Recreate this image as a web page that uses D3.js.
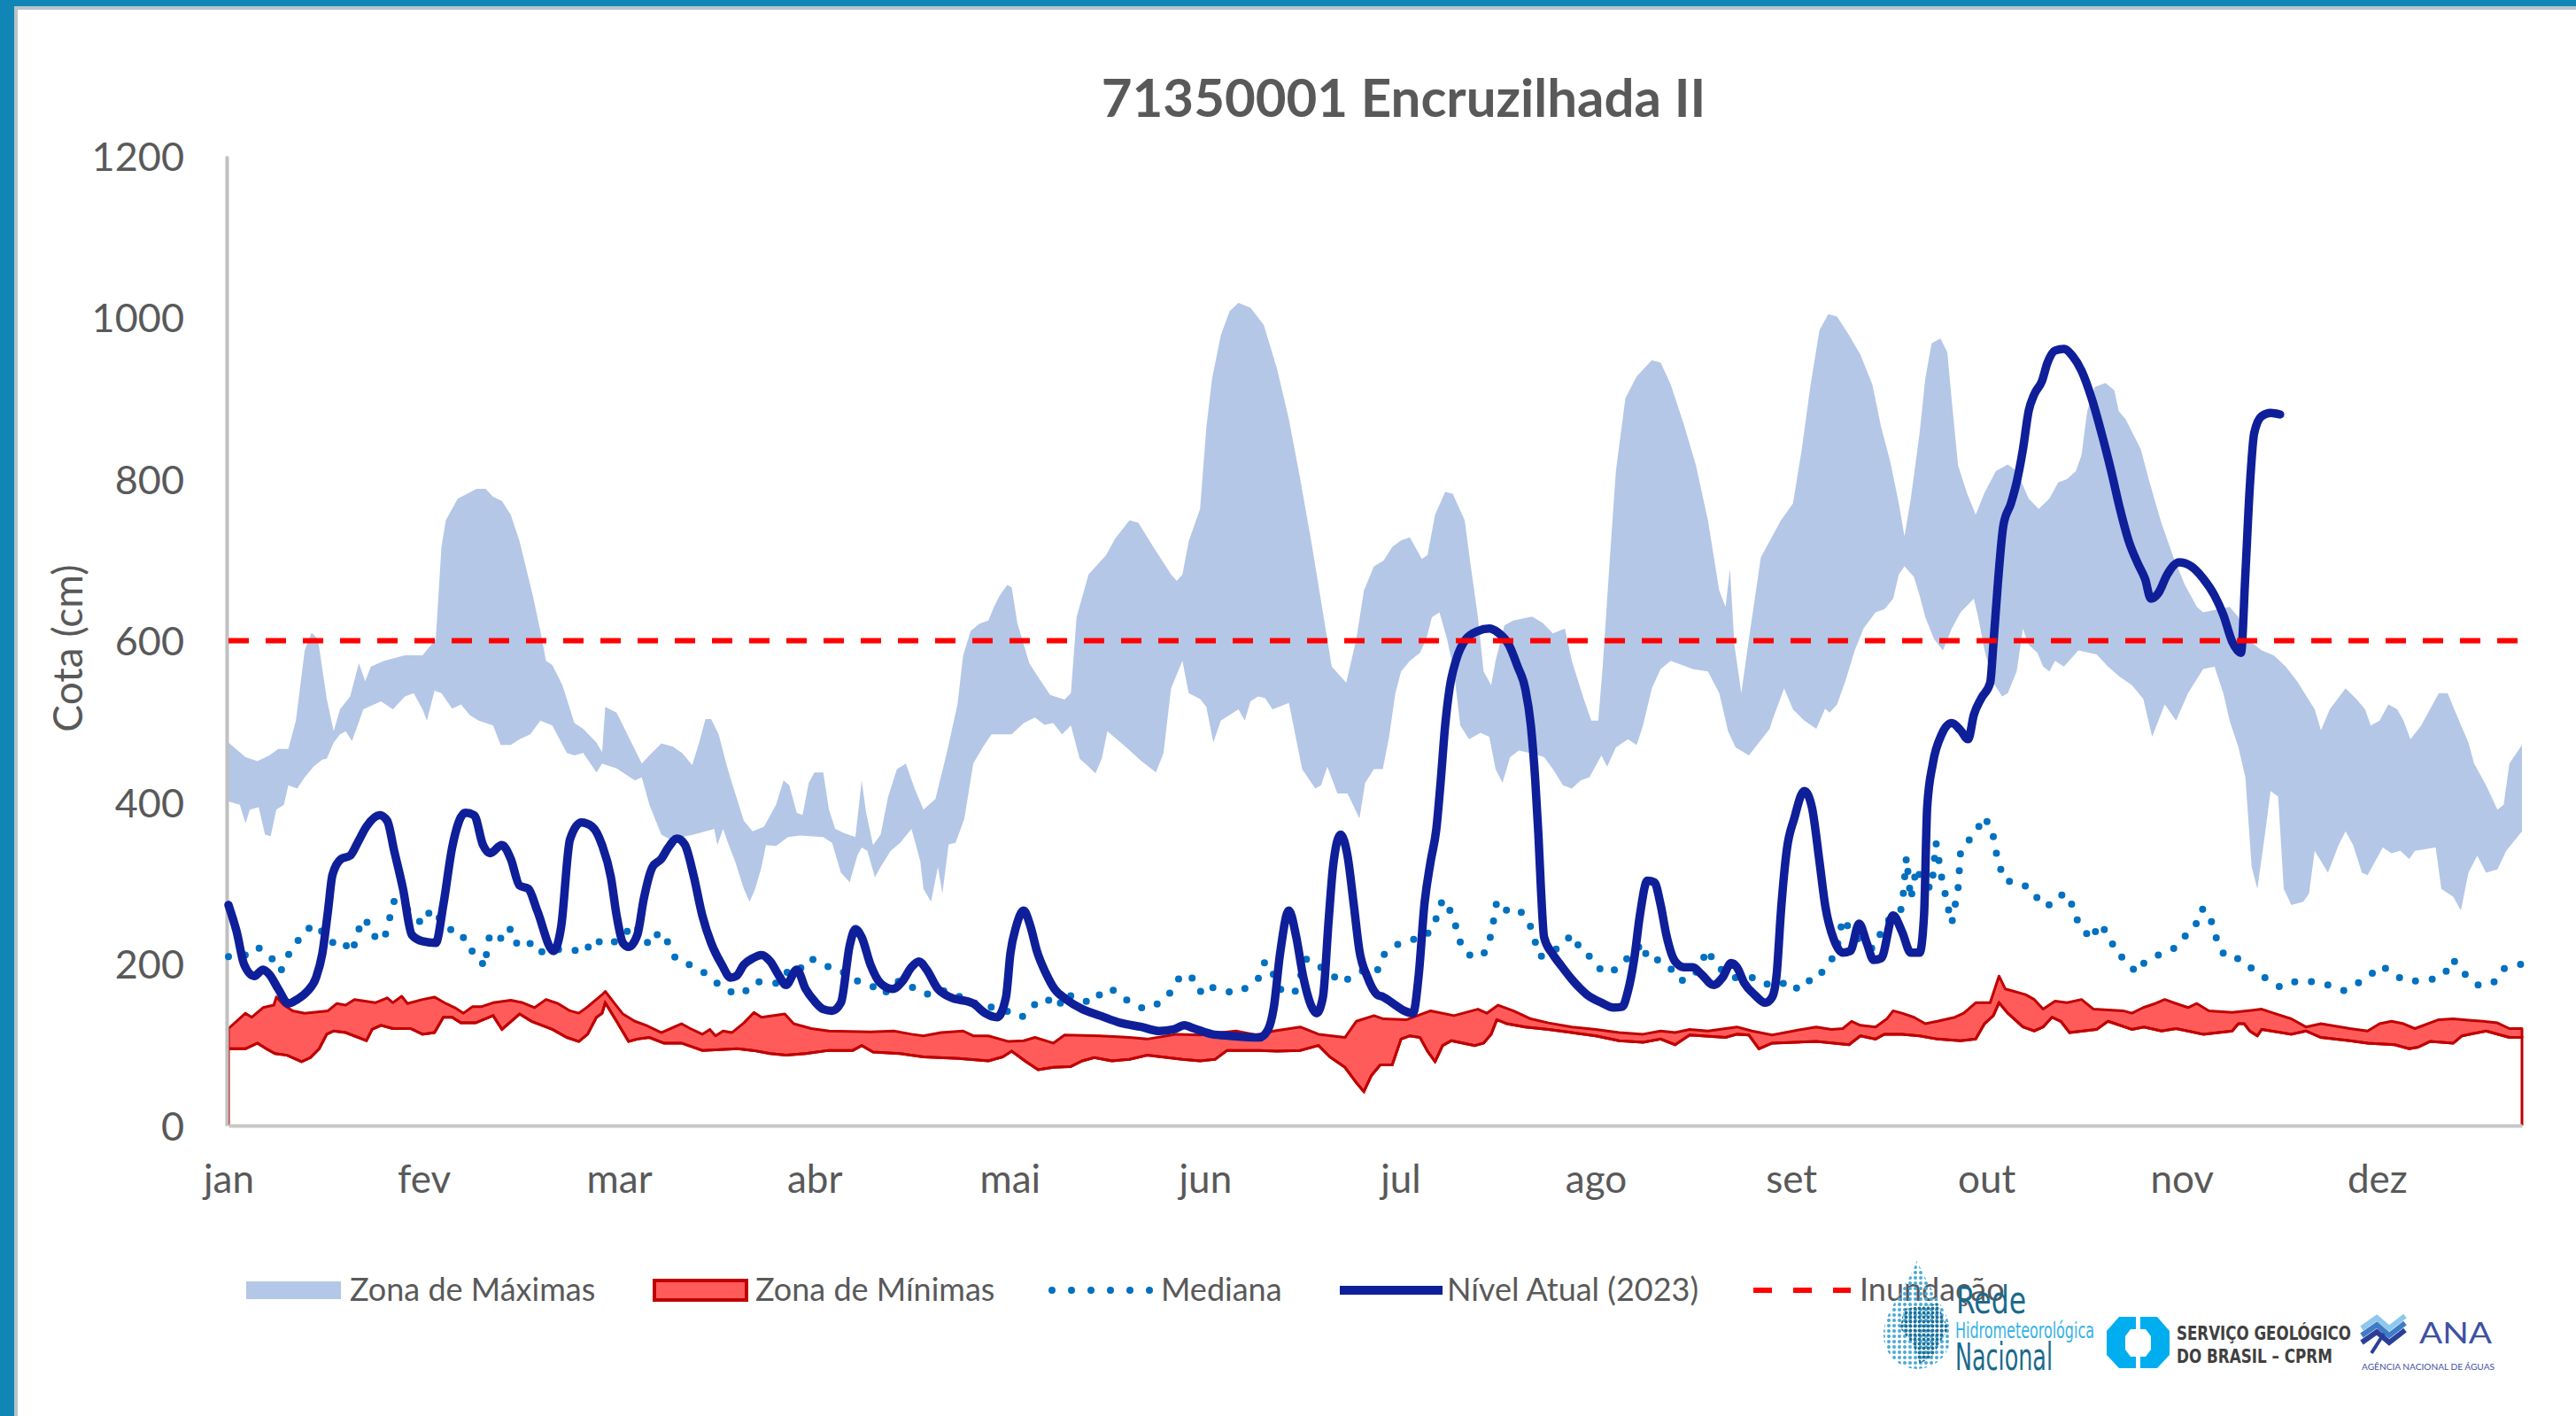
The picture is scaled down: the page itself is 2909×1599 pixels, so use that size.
<!DOCTYPE html>
<html>
<head>
<meta charset="utf-8">
<script src="https://cdn.jsdelivr.net/npm/d3@7"></script>
<style>
  body { margin: 0; background: #0f86b6; }
  svg { display: block; }
  text { font-family: Lato, "Open Sans", sans-serif; }
</style>
</head>
<body>
<svg id="chart" width="2909" height="1599"></svg>
<script>
// ---- dados (dia do ano, cota em cm) ----
const meses = ["jan", "fev", "mar", "abr", "mai", "jun", "jul", "ago", "set", "out", "nov", "dez"];
const cotas = [0, 200, 400, 600, 800, 1000, 1200];
const cotaInundacao = 600;

const zonaMaxSup = [[0,474],[2.7,456],[4.6,451],[6.5,458],[7.9,466],[9.5,466],[10.7,501],[12.1,588],[13.2,610],[14.2,602],[15.6,528],[16.7,488],[17.7,515],[19.3,531],[20.7,572],[21.7,550],[22.6,568],[24.7,575],[28,582],[30.8,582],[32.9,602],[33.8,716],[34.5,749],[36.4,776],[39.4,788],[40.8,788],[42,778],[43.4,773],[44.8,756],[46.2,723],[48.3,656],[49.5,612],[50.4,575],[51.4,570],[53,545],[54.9,498],[56.3,491],[58.4,474],[59.3,462],
  [59.8,518],[61.6,511],[63.5,481],[65.6,448],[66.8,458],[68.7,473],[70.5,469],[72,461],[73.6,446],[74.7,474],[75.7,503],[76.6,503],[77.8,484],[79,448],[79.9,424],[81.8,377],[83.2,364],[85,370],[86.9,397],[88.1,427],[89,421],[90.2,387],[91.1,384],[92.1,424],[93,437],[94.4,437],[95.3,391],[96.3,367],[97.7,362],[99.5,357],[100.5,427],[101.2,387],[102.3,347],[103.5,360],[104.7,407],[106.1,441],[107.5,448],[108.9,417],[110.3,391],[112.2,404],[114,461],[115.7,521],[116.6,582],[117.8,612],[119.2,621],[120.6,625],
  [121.5,642],[122.4,656],[123.6,669],[124.3,666],[125.2,622],[127.1,572],[128.5,555],[130.4,533],[132.7,527],[133.7,535],[134.6,629],[136.5,682],[139.3,706],[140.7,726],[143,749],[144.4,746],[146.8,716],[149.6,682],[150.5,674],[151.4,682],[152.4,723],[154.2,763],[155.2,864],[156.1,924],[157.5,978],[158.9,1008],[160.3,1018],[162.2,1012],[164.3,991],[166.4,937],[168.3,874],[170.1,800],[172,716],[173.4,649],[175.1,568],[177.4,548],[179,602],[180.2,662],[181.8,692],
  [183.3,699],[184.7,716],[186.1,724],[187.5,728],[189.4,701],[190.3,706],[191.5,756],[193.1,784],[194.3,782],[196.2,749],[197.1,696],[198.3,629],[199.2,562],[200.4,545],[201.1,575],[202.5,619],[203.9,625],[206.9,630],[208.6,622],[210.2,609],[212.1,615],[213.2,575],[215.1,528],[216.3,501],[217.4,501],[218.1,568],[219.3,709],[220.2,810],[221.7,900],[223.5,927],[225.9,947],[227.3,944],[228.9,917],[231,867],[232.9,817],[234.8,749],[236.6,662],[237.6,642],[238.3,689],[239,595],[240.1,535],[241.3,602],[243.2,703],
  [245,729],[246.4,749],[248.3,770],[249.7,837],[251.1,917],[252.5,984],[253.9,1004],[255.3,1001],[257.2,978],[259,954],[260.9,917],[262.3,864],[263.7,823],[265.1,770],[266,729],[267,776],[268.4,857],[269.3,924],[270.3,968],[271.7,974],[272.8,957],[273.5,897],[274.5,817],[275.9,783],[277.3,756],[278.7,783],[280.5,810],[282.4,818],[283.8,810],[285.7,776],[287.3,763],[289,776],[290.4,796],[291.8,800],[293.2,810],[294.1,830],[295,884],[296.2,914],[297.9,919],[299.3,910],[300,884],[301.1,874],[303.5,837],[304.9,796],
  [306.8,745],[308.7,703],[310.5,669],[312.4,642],[313.4,635],[317.6,642],[319,629],[320.4,602],[322.7,588],[324.6,582],[326.5,568],[328.3,550],[331.1,515],[332.1,489],[333.5,515],[336,541],[337.7,528],[339.1,515],[340,495],[341.4,501],[342.8,521],[344.2,515],[345.2,501],[346.3,478],[348,495],[350.8,535],[352.2,535],[354,501],[355.5,474],[356.4,448],[358.3,421],[360.1,391],[361.1,397],[362,448],[364,471]];

const zonaMaxInf = [[0,401],[1.8,397],[2.7,374],[3.4,391],[4.8,394],[5.8,360],[6.7,358],[7.6,391],[8.8,397],[9.5,421],[10.9,417],[12.1,431],[13.5,444],[14.9,453],[15.6,454],[16.7,474],[17.7,484],[18.6,488],[19.6,476],[20.5,495],[21.4,515],[24.2,525],[26.1,515],[28,531],[29.4,535],[30.8,515],[31.5,501],[32.7,538],[33.8,535],[35.5,516],[36.9,521],[38.3,508],[39.7,501],[42,495],[43.2,471],[44.8,471],[46.2,478],[47.9,484],[49.5,501],[51.4,495],[53.7,461],[54.9,458],[56.3,461],[58.4,437],[59.3,448],
  [61.6,442],[64.5,427],[65.6,431],[66.8,397],[68.7,360],[70.1,354],[73.8,360],[77.1,367],[77.6,347],[78.5,367],[79.4,347],[80.4,327],[81.8,293],[82.7,277],[83.6,293],[84.6,320],[85.3,347],[86.9,346],[88.8,357],[90.7,359],[94.4,357],[95.8,350],[97.2,313],[98.6,301],[99.8,334],[100.5,344],[101.4,340],[102.6,307],[103.5,320],[105.1,340],[106.6,350],[108.4,367],[109.8,327],[110.3,293],[111.5,277],[112.6,320],[113.3,287],[114.3,348],[115.4,350],[116.8,380],[118.2,448],[119.7,468],[121.1,484],
  [124.3,484],[126.2,498],[128,505],[129.5,496],[130.9,498],[132.3,484],[133.7,495],[135.1,454],[136.5,444],[137.6,436],[138.6,454],[139.5,488],[142.5,468],[144.9,451],[147.2,437],[148.4,461],[149.6,541],[150.7,562],[151.4,575],[152.4,535],[154.2,528],[155.2,518],[156.3,474],[157.5,501],[160.3,515],[161.3,501],[162.2,525],[163.4,531],[164.5,529],[165.7,515],[168.3,523],[169.2,488],[170.4,441],[172.5,417],[173.4,421],[174.4,444],[176,411],[177.6,411],[179.5,380],[180.4,424],[181.8,441],[183.2,441],
  [184.2,481],[185.2,535],[186.1,562],[187.5,575],[189.1,585],[190.1,602],[191,629],[192.2,635],[193.4,602],[194.5,562],[195.5,495],[196.9,478],[198.7,486],[200.1,481],[201.1,441],[202.2,424],[203.4,456],[204.8,464],[207.2,460],[208.8,456],[210.2,441],[211.8,421],[213.2,417],[214.6,427],[216,431],[217.9,458],[218.8,444],[220.2,468],[222.1,478],[223.5,471],[224.5,495],[225.9,541],[227.3,565],[228.9,575],[232.4,565],[234.8,562],[236.6,535],[238,488],[239.2,468],[241.3,458],[242.9,474],[244.6,491],
  [245,501],[246.9,541],[248.3,515],[250.1,501],[252,491],[253.4,516],[254.1,511],[255.3,521],[256.7,552],[258.1,588],[259.5,615],[261.4,635],[262.8,639],[264.2,652],[265.1,682],[266,692],[267.5,679],[268.4,656],[269.3,629],[270.7,602],[272.1,588],[273.5,615],[274.9,635],[277,652],[277.7,629],[278.7,588],[280.1,548],[281.5,531],[282.4,535],[283.8,562],[284.8,615],[285.7,595],[287.1,585],[288,568],[289,562],[289.9,575],[291.3,568],[293.6,588],[296.5,583],[298.3,568],[300.2,555],[302.1,545],[303.9,528],[305.3,481],[306.3,501],
  [307.3,521],[309.1,501],[311,535],[313.4,565],[315.2,568],[316.6,535],[317.6,501],[319,468],[320.1,431],[321.1,320],[322,293],[323.2,360],[324.1,414],[325.3,407],[326.2,293],[327.4,273],[329.3,277],[330.2,287],[331.1,340],[333.2,313],[334.9,347],[336,364],[337.2,347],[338.6,313],[339.5,310],[341.9,344],[343.3,337],[344.7,340],[346.1,330],[347,340],[350.3,344],[351.2,293],[353.1,283],[354.3,266],[355.5,313],[356.9,334],[358.3,313],[360.1,317],[361.5,340],[364,364]];

const zonaMinSup = [[0,120],[2.7,139],[3.7,134],[5.5,146],[7.2,149],[7.6,159],[8.8,149],[10.2,142],[12.1,139],[15.8,142],[17.2,151],[18.6,149],[20,156],[23.3,152],[25.2,158],[26.1,152],[27.5,160],[28.4,151],[30.8,156],[32.7,159],[34.5,151],[35.9,146],[37.3,139],[38.7,147],[40.1,147],[42,152],[44.8,155],[46.7,152],[48.6,146],[50.4,156],[52.3,151],[54.2,142],[55.6,139],[57,147],[59.3,162],[59.8,166],[61.2,152],[62.6,138],[64.5,129],[66.3,124],[68.7,115],[71.9,126],[73.3,120],[75.2,113],[76.4,119],[77.3,111],[78.5,117],[79.9,115],[81.8,127],[83.4,140],[84.6,134],[88.3,138],[89.7,126],[92.5,120],[95.3,117],[101.9,116],[105.6,117],[108.4,113],[110.3,111],[113.1,115],[116.6,117],[118.2,111],[120.6,111],[123.8,104],[126.2,105],[128,109],[130.9,102],[132.7,112],[138.3,111],[143,109],[145.8,107],[150.5,113],[154.2,112],[159.9,117],[163.1,112],[165.9,117],[170.1,122],[173,113],[177.2,109],[179,129],[181.8,136],[183.3,132],[187,131],[190.8,142],[194.5,136],[198.3,144],[199.7,139],[201.5,149],[203.9,142],[206.7,132],[209.5,127],[213.2,122],[217,119],[220.7,115],[224.5,113],[227.3,117],[229.6,115],[231.9,119],[234.8,117],[239.4,122],[241.8,117],[245,112],[249.7,119],[252,122],[254.4,119],[256.2,120],[257.6,129],[259,124],[261.4,122],[263.2,132],[264.2,142],[265.6,139],[267.5,134],[269.3,126],[271.2,129],[274,134],[275.4,139],[277.3,152],[279.6,152],[281,185],[282,169],[283.4,166],[285.2,162],[286.6,156],[288,144],[289.9,154],[291.8,152],[294.1,156],[296,144],[300.7,142],[302.1,139],[303.9,146],[305.8,151],[307.3,156],[309.1,151],[311,146],[312.4,151],[314.3,142],[318,140],[322.7,144],[324.6,139],[327.4,132],[329.7,122],[332.1,126],[336.7,120],[339.5,117],[341.4,126],[343.3,129],[345.2,126],[347,120],[350.8,131],[353.1,132],[357.8,129],[360.1,127],[362,120],[364,120]];

const zonaMinInf = [[0,95],[2.7,95],[4.6,102],[6,95],[7.4,89],[9.3,87],[11.6,79],[13,84],[14.4,95],[15.6,113],[16.7,117],[18.6,115],[21.9,105],[22.8,119],[24.2,124],[26.1,120],[28.9,120],[30.8,113],[32.7,115],[34.1,134],[35.5,134],[36.9,127],[39.2,127],[42,136],[43.4,119],[46.2,138],[48.1,129],[51.4,119],[53.7,109],[55.6,104],[57,113],[58.4,134],[59.3,139],[59.8,152],[61.6,129],[63.5,104],[64.9,107],[66.8,109],[69.1,102],[71.9,102],[75.2,93],[80.8,95],[83.2,93],[86,89],[88.5,87],[91.6,89],[95.3,93],[99.1,93],[100.5,99],[102.3,91],[106.6,89],[110.3,85],[115.9,83],[120.6,80],[122.9,85],[124.3,92],[126.6,79],[128.5,69],[130.9,72],[133.7,73],[135.5,80],[137.4,84],[140.2,80],[143,82],[145.8,87],[151.4,82],[154.2,80],[156.6,82],[158.5,93],[163.6,93],[166.4,92],[170.1,93],[173,99],[174.8,85],[177.2,72],[179,53],[180.2,42],[181.4,62],[182.8,75],[184.7,75],[186.1,107],[187.5,111],[189.1,109],[190.3,92],[191.5,79],[192.7,99],[194.1,105],[197.8,99],[199.2,102],[200.4,113],[201.3,131],[202.9,126],[205.8,122],[209.5,119],[213.2,115],[217,111],[220.7,105],[224.5,103],[227.3,107],[229.6,100],[231.9,112],[237.6,109],[239.4,113],[241.3,112],[242.9,95],[245,102],[252,104],[257.2,100],[259,111],[261.4,107],[262.8,113],[265.6,113],[268.4,111],[271.2,107],[274.9,105],[277.3,107],[278.7,126],[280.1,136],[281,152],[282.4,139],[284.8,122],[286.6,117],[288,122],[289.4,134],[290.8,129],[292.2,115],[296.5,119],[298.3,129],[302.1,119],[304,122],[306.8,117],[309.1,120],[313.4,113],[318,117],[319,126],[319.9,126],[320.8,117],[322,111],[322.7,119],[327.4,113],[329.7,117],[332.1,109],[336.7,105],[339.5,102],[343.8,100],[346.1,95],[347.5,97],[349.4,104],[353.1,102],[354.5,111],[358.3,117],[362,109],[364,109]];

const mediana = [[0,209],[2.7,211],[4.6,221],[6.7,209],[8.3,191],[9.5,211],[12.1,241],[13.9,249],[16.3,226],[17.9,230],[19.6,214],[21.2,256],[22.6,248],[23.5,228],[24.9,236],[26.3,278],[27.5,274],[29.4,260],[30.8,249],[32.2,268],[35,243],[36.9,240],[38,219],[39.7,211],[40.6,196],[41.5,238],[43.4,231],[44.6,245],[45.5,225],[47.4,231],[48.8,214],[53.5,219],[56.7,214],[57.7,231],[60.2,223],[62.6,233],[64.2,250],[65.4,240],[66.8,223],[68.4,240],[69.8,226],[71,206],[74.7,194],[76.8,181],[79,167],[81.5,162],[83.6,178],[87.4,176],[88.8,191],[90.2,189],[92.1,207],[93.9,203],[96.3,191],[98.1,189],[99.8,179],[101.9,174],[104,162],[105.8,178],[107.5,179],[109.1,167],[111.2,162],[113.8,167],[115.9,160],[118.2,152],[120.8,147],[122.5,145],[123.4,142],[125.9,134],[127.8,149],[129.7,158],[131.6,146],[133,164],[134.6,156],[137.2,152],[139,169],[140.7,167],[142.8,154],[145.4,144],[147.9,152],[149.8,167],[151.2,187],[153.5,181],[154.5,162],[156.1,171],[159.6,164],[161.7,171],[163.6,183],[164.5,203],[165.7,189],[167.1,167],[169.2,164],[171.1,206],[172.7,199],[174.8,189],[176.7,176],[178.3,185],[180.4,193],[182.3,191],[183.3,211],[185.2,223],[187.5,230],[189.8,232],[191.3,248],[192.7,280],[194.3,261],[195,240],[195.8,219],[197.6,207],[199.4,214],[200.4,236],[201.3,278],[202.9,266],[204.8,268],[206.5,250],[208.1,209],[210.2,214],[211.8,228],[213.5,236],[214.6,216],[216.5,207],[218.1,189],[220.2,193],[224.5,226],[225.2,205],[227,205],[228.7,196],[230.5,179],[232.6,185],[234.8,218],[235.9,199],[238.7,183],[242.7,183],[244.6,173],[246.9,176],[248.5,167],[250.1,181],[251.5,178],[253.4,194],[255.1,213],[256.2,256],[257.6,240],[259,228],[260.9,219],[262.8,246],[264.2,263],[265.6,268],[266.3,332],[267,280],[267.9,319],[268.9,300],[270.3,293],[271,350],[271.9,307],[273.1,263],[273.5,250],[274.5,293],[274.9,339],[276.1,352],[277.5,364],[278.4,382],[279.8,370],[280.8,328],[281.9,303],[284.5,300],[286.4,290],[287.8,272],[289.7,274],[291.3,288],[292.7,272],[293.6,250],[295.7,230],[296.9,250],[298.6,234],[299.5,214],[301.1,205],[302.8,189],[304.2,203],[306.3,211],[308.7,219],[310.5,234],[312.2,248],[313.1,268],[314.1,266],[315,246],[315.7,226],[316.9,209],[319.4,206],[321.3,193],[323.6,181],[325.7,171],[328.3,179],[330.9,178],[333.2,174],[335.8,167],[337.9,176],[340,187],[341.7,198],[344,185],[346.1,178],[349.8,181],[351.7,187],[353,206],[354.7,189],[356.9,174],[359.4,176],[361.1,194],[362.9,198],[364,200]];

const nivelAtual = [[0,273],[1.3,240],[2.5,199],[4.1,185],[5.5,193],[6.5,187],[7.9,169],[9.5,151],[10.9,156],[12.5,166],[13.9,183],[14.9,213],[15.8,266],[16.5,310],[17.9,330],[19.3,334],[20.5,350],[21.9,370],[24,384],[25.2,377],[26.3,340],[27.7,293],[29.1,236],[30.8,228],[32.9,226],[34.1,273],[35.5,344],[37.6,387],[39,384],[40.4,347],[41.5,337],[43.4,347],[44.8,330],[46.2,297],[47.6,293],[49,266],[51.6,216],[52.8,246],[54.2,354],[56,375],[57.7,370],[59.3,347],[60.7,307],[61.6,260],[62.6,226],[63.5,221],[64.9,236],[65.9,280],[67.3,320],[68.7,330],[69.8,344],[71.2,355],[72.4,348],[73.8,310],[75.2,260],[76.6,226],[78.3,199],[79.7,183],[80.6,185],[81.8,199],[83.2,207],[84.6,211],[86,203],[87.4,185],[88.5,174],[90.2,193],[91.6,169],[93,154],[94.4,144],[95.8,142],[97.2,152],[98.6,223],[99.5,243],[100.5,233],[101.9,199],[103.5,176],[105.4,169],[107,179],[108.4,196],[109.6,203],[110.8,193],[112.6,169],[114.5,159],[118.2,151],[120.1,139],[122,134],[123.4,159],[124.1,213],[125,246],[126.2,266],[127.3,246],[128.3,216],[129.7,189],[131.1,169],[133,156],[135.5,144],[138.3,136],[141.6,127],[144.9,122],[147.7,117],[150,119],[151.7,124],[153.3,120],[156.1,113],[158.9,111],[163.6,109],[165,119],[165.9,146],[166.9,213],[168.3,266],[169.4,236],[170.6,183],[171.8,149],[172.7,139],[173.7,159],[174.6,253],[175.3,320],[176.5,360],[177.6,334],[178.6,273],[179.5,216],[180.7,185],[182.3,162],[183.3,159],[185.2,149],[186.6,142],[188,139],[188.9,186],[189.8,273],[190.8,327],[191.7,367],[192.4,427],[193.1,495],[193.8,541],[194.8,575],[196.4,602],[198.3,612],[200.1,615],[201.5,610],[203.2,595],[204.6,568],[205.8,541],[206.7,495],[207.4,427],[207.9,360],[208.3,293],[208.8,233],[210,214],[211.4,199],[213.2,181],[215.6,162],[217.9,152],[219.8,146],[221.2,147],[222.1,166],[223.1,206],[224,260],[225.2,303],[226.3,301],[227.3,273],[228.2,236],[229.6,203],[231,196],[232.4,196],[233.8,187],[235.7,174],[237.1,183],[238.5,201],[239.4,196],[240.6,176],[242.2,162],[243.9,152],[245,159],[245.7,186],[246.4,266],[247.3,340],[248.5,380],[250.1,414],[251.3,394],[252.5,327],[253.4,273],[254.8,230],[256.2,214],[257.4,216],[258.8,250],[260,226],[261.1,205],[262.3,207],[264.2,260],[265.6,240],[267,214],[268.4,214],[269.1,260],[269.6,394],[270.5,448],[271.9,484],[273.5,498],[274.9,489],[276.1,478],[277,508],[278.2,529],[279.6,548],[280.1,595],[280.8,669],[281.7,743],[282.9,770],[283.8,796],[284.8,837],[285.7,884],[286.6,905],[287.8,921],[288.7,944],[289.9,959],[291.3,961],[292.7,952],[294.1,934],[295.7,900],[297.4,853],[298.8,810],[300.2,763],[301.6,723],[303,696],[304.2,676],[305.1,652],[306.3,659],[307.7,682],[309.6,697],[311.5,692],[313.4,677],[315.2,656],[316.6,632],[318,599],[319.4,585],[320.1,682],[320.8,790],[321.5,857],[322.7,878],[324.1,882],[325.6,880]];

const legendas = ["Zona de Máximas", "Zona de Mínimas", "Mediana", "Nível Atual (2023)", "Inundação"];

// ---- área do gráfico ----
const W = 2909, H = 1599;
const svg = d3.select("#chart");
const cinza = "#595959";

// moldura azul e painel branco
svg.append("rect").attr("width", W).attr("height", H).attr("fill", "#0f86b6");
svg.append("rect").attr("x", 16).attr("y", 7).attr("width", W).attr("height", H).attr("fill", "#b9c3c8");
svg.append("rect").attr("x", 20).attr("y", 11).attr("width", W).attr("height", H).attr("fill", "#ffffff");

const x = d3.scaleLinear().domain([0, 364]).range([258, 2848]);
const y = d3.scaleLinear().domain([0, 1200]).range([1271, 176]);
const linha = d3.line().x(d => x(d[0])).y(d => y(d[1]));

// zona de máximas
svg.append("path")
   .attr("d", linha(zonaMaxSup.concat(zonaMaxInf.slice().reverse())) + "Z")
   .attr("fill", "#b4c7e7");

// zona de mínimas
svg.append("path")
   .attr("d", linha(zonaMinSup.concat(zonaMinInf.slice().reverse())) + "Z")
   .attr("fill", "#ff5b5b")
   .attr("stroke", "#c00000")
   .attr("stroke-width", 3)
   .attr("stroke-linejoin", "round");

// contorno da série inferior (desce até zero nas pontas)
svg.append("path")
   .attr("d", linha([[0, 0]].concat(zonaMinInf, [[364, 0]])))
   .attr("fill", "none")
   .attr("stroke", "#c00000")
   .attr("stroke-width", 3);

// eixos
const eixoY = d3.axisLeft(y).tickValues(cotas).tickFormat(d3.format("d")).tickSize(0).tickPadding(48);
const gY = svg.append("g").attr("transform", "translate(256,0)").call(eixoY);
gY.select(".domain").attr("stroke", "#c0c0c0").attr("stroke-width", 4);
gY.selectAll("text")
  .attr("dy", "0.36em")
  .style("font-size", "45px")
  .style("font-family", "Lato, 'Open Sans', sans-serif")
  .attr("fill", cinza);

const eixoX = d3.axisBottom(x)
    .tickValues(meses.map((m, i) => i * 31))
    .tickFormat((d, i) => meses[i])
    .tickSize(0)
    .tickPadding(45);
const gX = svg.append("g").attr("transform", "translate(0,1271)").call(eixoX);
gX.select(".domain").attr("stroke", "#c8c8c8").attr("stroke-width", 4);
gX.selectAll("text")
  .style("font-size", "44px")
  .style("font-family", "Lato, 'Open Sans', sans-serif")
  .attr("fill", cinza);

// mediana (pontilhada)
svg.append("path")
   .attr("d", linha(mediana))
   .attr("fill", "none")
   .attr("stroke", "#0070c0")
   .attr("stroke-width", 8)
   .attr("stroke-linecap", "round")
   .attr("stroke-dasharray", "0,19");

// nível atual
svg.append("path")
   .attr("d", linha.curve(d3.curveMonotoneX)(nivelAtual))
   .attr("fill", "none")
   .attr("stroke", "#0f1f99")
   .attr("stroke-width", 9.5)
   .attr("stroke-linejoin", "round")
   .attr("stroke-linecap", "round");
linha.curve(d3.curveLinear);

// cota de inundação
svg.append("line")
   .attr("x1", x(0)).attr("x2", x(364))
   .attr("y1", y(cotaInundacao)).attr("y2", y(cotaInundacao))
   .attr("stroke", "#ff0000")
   .attr("stroke-width", 6)
   .attr("stroke-dasharray", "23,19");

// título
svg.append("text")
   .attr("x", 1585).attr("y", 132)
   .attr("text-anchor", "middle")
   .style("font-size", "60px")
   .style("font-weight", "bold")
   .attr("fill", cinza)
   .text("71350001 Encruzilhada II");

// título do eixo Y
svg.append("text")
   .attr("transform", "translate(75,732) rotate(-90)")
   .attr("text-anchor", "middle")
   .attr("dominant-baseline", "central")
   .style("font-size", "46px")
   .attr("fill", cinza)
   .text("Cota (cm)");

// legenda
const legY = 1457;
const simbX = [278, 739, 1188, 1513, 1980];
const textoX = [395, 853, 1311, 1634, 2100];
const leg = svg.append("g");
leg.append("rect").attr("x", simbX[0]).attr("y", legY - 10).attr("width", 107).attr("height", 20).attr("fill", "#b4c7e7");
leg.append("rect").attr("x", simbX[1]).attr("y", legY - 11).attr("width", 104).attr("height", 22)
   .attr("fill", "#ff5b5b").attr("stroke", "#c00000").attr("stroke-width", 4);
leg.append("line").attr("x1", simbX[2]).attr("x2", simbX[2] + 112).attr("y1", legY).attr("y2", legY)
   .attr("stroke", "#0070c0").attr("stroke-width", 8).attr("stroke-linecap", "round").attr("stroke-dasharray", "0,22");
leg.append("line").attr("x1", simbX[3]).attr("x2", simbX[3] + 116).attr("y1", legY).attr("y2", legY)
   .attr("stroke", "#0f1f99").attr("stroke-width", 10);
leg.append("line").attr("x1", simbX[4]).attr("x2", simbX[4] + 110).attr("y1", legY).attr("y2", legY)
   .attr("stroke", "#ff0000").attr("stroke-width", 6).attr("stroke-dasharray", "21,24");
leg.selectAll("text.leg").data(legendas).enter().append("text")
   .attr("class", "leg")
   .attr("x", (d, i) => textoX[i])
   .attr("y", legY + 12)
   .style("font-size", "36px")
   .attr("fill", cinza)
   .text(d => d);

// logotipos
function desenharLogos(svg) {
  const defs = svg.append("defs");
  const p1 = defs.append("pattern").attr("id", "pontos").attr("width", 6).attr("height", 6)
    .attr("patternUnits", "userSpaceOnUse");
  p1.append("circle").attr("cx", 3).attr("cy", 3).attr("r", 2).attr("fill", "#49a9d8");
  const p2 = defs.append("pattern").attr("id", "pontos2").attr("width", 5).attr("height", 5)
    .attr("patternUnits", "userSpaceOnUse");
  p2.append("circle").attr("cx", 2.5).attr("cy", 2.5).attr("r", 1.9).attr("fill", "#1d6f95");

  const g = svg.append("g");
  // gota
  g.append("path")
   .attr("d", "M2165,1423 C2152,1458 2127,1480 2127,1508 A38,38 0 0 0 2203,1508 C2203,1480 2178,1458 2165,1423 Z")
   .attr("fill", "url(#pontos)");
  g.append("path")
   .attr("d", "M2150,1478 L2188,1472 L2200,1500 L2182,1532 L2168,1540 L2160,1518 L2146,1500 Z")
   .attr("fill", "url(#pontos2)");
  const narrow = "'Liberation Sans Narrow', 'DejaVu Sans Condensed', Roboto, sans-serif";
  g.append("text").attr("x", 2209).attr("y", 1483).attr("textLength", 79).attr("lengthAdjust", "spacingAndGlyphs")
   .style("font-family", narrow).style("font-size", "42px").attr("fill", "#1b6a8c").text("Rede");
  g.append("text").attr("x", 2208).attr("y", 1511).attr("textLength", 157).attr("lengthAdjust", "spacingAndGlyphs")
   .style("font-family", narrow).style("font-size", "24px").attr("fill", "#35b2e3").text("Hidrometeorológica");
  g.append("text").attr("x", 2208).attr("y", 1547).attr("textLength", 110).attr("lengthAdjust", "spacingAndGlyphs")
   .style("font-family", narrow).style("font-size", "42px").attr("fill", "#1b6a8c").text("Nacional");

  // CPRM
  g.append("path")
   .attr("d", "M2393,1487 L2436,1487 L2450,1503 L2450,1530 L2436,1545 L2393,1545 L2379,1530 L2379,1503 Z")
   .attr("fill", "#00aeef");
  g.append("path")
   .attr("d", "M2406,1501 L2423,1501 L2429,1509 L2429,1524 L2423,1532 L2406,1532 L2400,1524 L2400,1509 Z")
   .attr("fill", "#ffffff");
  g.append("rect").attr("x", 2412).attr("y", 1486).attr("width", 5).attr("height", 16).attr("fill", "#ffffff");
  g.append("rect").attr("x", 2412).attr("y", 1531).attr("width", 5).attr("height", 16).attr("fill", "#ffffff");
  g.append("text").attr("x", 2458).attr("y", 1513).attr("textLength", 197).attr("lengthAdjust", "spacingAndGlyphs")
   .style("font-family", narrow).style("font-size", "22px").style("font-weight", "bold").attr("fill", "#404040").text("SERVIÇO GEOLÓGICO");
  g.append("text").attr("x", 2458).attr("y", 1539).attr("textLength", 176).attr("lengthAdjust", "spacingAndGlyphs")
   .style("font-family", narrow).style("font-size", "22px").style("font-weight", "bold").attr("fill", "#404040").text("DO BRASIL – CPRM");

  // ANA
  const ondas = [["#8ec8ec", 0], ["#3e7cc6", 8], ["#2b3f9a", 16]];
  ondas.forEach(o => {
    g.append("path")
     .attr("d", `M2667,${1500 + o[1]} L2684,${1488 + o[1]} L2698,${1500 + o[1]} L2716,${1486 + o[1]}`)
     .attr("fill", "none").attr("stroke", o[0]).attr("stroke-width", 6);
  });
  g.append("path").attr("d", "M2678,1528 L2692,1506").attr("stroke", "#2b3f9a").attr("stroke-width", 4);
  g.append("text").attr("x", 2732).attr("y", 1517).attr("textLength", 82).attr("lengthAdjust", "spacingAndGlyphs")
   .style("font-size", "32px").attr("fill", "#3f51a3").text("ANA");
  g.append("text").attr("x", 2667).attr("y", 1547).attr("textLength", 150).attr("lengthAdjust", "spacingAndGlyphs")
   .style("font-size", "9px").attr("fill", "#3f51a3").text("AGÊNCIA NACIONAL DE ÁGUAS");
}
desenharLogos(svg);
</script>
</body>
</html>
